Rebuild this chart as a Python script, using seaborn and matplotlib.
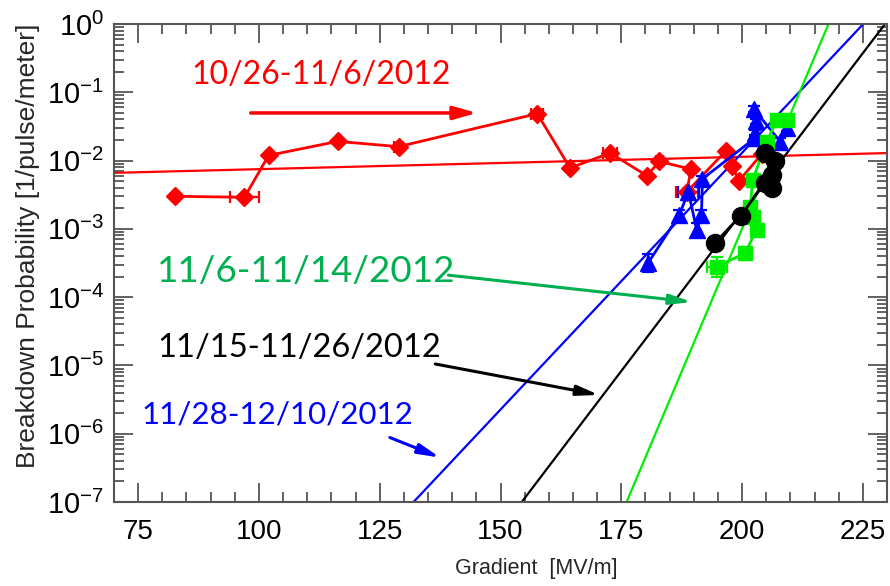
import numpy as np
import pandas as pd
import matplotlib
matplotlib.use("Agg")
import matplotlib.pyplot as plt
import seaborn as sns
from matplotlib.ticker import MultipleLocator, LogLocator, NullFormatter

# ---------------- data ----------------
red_x = [82.6, 97.0, 102.0, 116.3, 128.9, 157.6, 164.4, 172.7, 180.3, 182.9, 189.4, 188.6, 196.7, 197.9, 199.4, 204.1]
red_y = [0.0030, 0.0029, 0.0119, 0.0191, 0.0160, 0.0486, 0.0078, 0.0129, 0.0060, 0.0097, 0.0075, 0.0035, 0.0140, 0.0082, 0.0051, 0.0125]
red_xerr = [0, 3.0, 0, 0, 1.0, 1.2, 0, 1.5, 0, 0.8, 0, 2.2, 0, 0, 0, 0]

blue_x = [180.6, 187.0, 188.9, 190.6, 191.6, 191.8, 202.7, 202.7, 202.9, 202.4, 207.9, 209.3]
blue_y = [0.00032, 0.0016, 0.0035, 0.00097, 0.0016, 0.0054, 0.0214, 0.0253, 0.0375, 0.0569, 0.0190, 0.0300]
blue_yerr_rel = [0.35, 0.2, 0.1, 0.25, 0.2, 0.1, 0.1, 0.1, 0.1, 0.12, 0.12, 0.1]
blue_xerr = [0, 0, 2.2, 0, 0, 0, 0, 0, 0, 0, 0, 0]

green_x = [194.8, 200.6, 203.0, 202.3, 201.7, 202.2, 205.1, 207.2, 209.3]
green_y = [0.00028, 0.00044, 0.00097, 0.0015, 0.0021, 0.0052, 0.0190, 0.0390, 0.0390]
green_yerr_rel = [0.4, 0.25, 0.2, 0.15, 0.15, 0.1, 0.1, 0.08, 0.08]
green_xerr = [2.0, 0, 0, 0, 0, 0, 0, 0, 0]

black_x = [194.4, 199.7, 204.7, 206.1, 206.1, 206.8, 204.7]
black_y = [0.00062, 0.00156, 0.0047, 0.0040, 0.0062, 0.0097, 0.0129]

# exponential fits: log10(P) = a + b * (E - E0)
fit_red = (-2.18, 0.00181, 70.0)
fit_blue = (-7.0, 0.0752, 132.0)
fit_black = (-7.0, 0.0931, 154.4)
fit_green = (-7.0, 0.1675, 176.1)

labels = ["10/26-11/6/2012", "11/6-11/14/2012", "11/15-11/26/2012", "11/28-12/10/2012"]
x_ticks = [75, 100, 125, 150, 175, 200, 225]

# ---------------- style ----------------
sns.set_style("ticks")
plt.rcParams["font.family"] = ["Liberation Sans", "DejaVu Sans"]
plt.rcParams["mathtext.default"] = "regular"

fig = plt.figure(figsize=(8.9, 5.86), dpi=100)
ax = fig.add_axes([114 / 890, 1 - 502 / 586, 773 / 890, 478 / 586])
ax.set_yscale("log")

RED, BLUE, GREEN, BLACK = "#ff0000", "#0000ff", "#00ee00", "#000000"


def fit_line(p, color):
    a, b, e0 = p
    xs = np.array([70.0, 230.0])
    df = pd.DataFrame({"x": xs, "y": 10 ** (a + b * (xs - e0))})
    sns.lineplot(data=df, x="x", y="y", color=color, lw=1.6, ax=ax, legend=False)


def series(x, y, color, marker, ms, xerr=None, yerr_rel=None):
    df = pd.DataFrame({"x": x, "y": y})
    y = np.asarray(y)
    if xerr is not None or yerr_rel is not None:
        ye = None
        if yerr_rel is not None:
            r = np.asarray(yerr_rel)
            ye = [y * r / (1 + r), y * r]
        ax.errorbar(x, y, xerr=xerr, yerr=ye, fmt="none", ecolor=color,
                    elinewidth=1.6, capsize=4, capthick=1.6, zorder=3)
    sns.lineplot(data=df, x="x", y="y", sort=False, estimator=None, color=color,
                 lw=2, marker=marker, markersize=ms, markeredgecolor=color,
                 markeredgewidth=1, ax=ax, legend=False, zorder=4)


fit_line(fit_red, RED)
fit_line(fit_blue, BLUE)
fit_line(fit_green, GREEN)
fit_line(fit_black, BLACK)

series(red_x, red_y, RED, "D", 9.5, xerr=red_xerr)
series(blue_x, blue_y, BLUE, "^", 12, xerr=blue_xerr, yerr_rel=blue_yerr_rel)
series(green_x, green_y, GREEN, "s", 10.5, xerr=green_xerr, yerr_rel=green_yerr_rel)
series(black_x, black_y, BLACK, "o", 13)

ax.xaxis.set_minor_locator(MultipleLocator(5))
ax.set_xticks(x_ticks)
ax.set_yticks([10.0 ** k for k in range(-7, 1)])
ax.yaxis.set_minor_locator(LogLocator(base=10, subs=np.arange(2, 10), numticks=20))
ax.yaxis.set_minor_formatter(NullFormatter())
ax.set_xlim(70, 230)
ax.set_ylim(1e-7, 1)

for s in ax.spines.values():
    s.set_visible(True)
    s.set_color("#555555")
    s.set_linewidth(1.5)
ax.tick_params(which="both", direction="in", top=True, right=True, colors="#555555",
               labelcolor="black", width=1.3)
ax.tick_params(axis="x", which="major", length=14, labelsize=20, pad=12)
ax.tick_params(axis="x", which="minor", length=7)
ax.tick_params(axis="y", which="major", length=14, labelsize=21, pad=7)
ax.tick_params(axis="y", which="minor", length=7)

ax.set_xlabel("Gradient  [MV/m]", fontsize=15.5)
ax.xaxis.set_label_coords((536 - 114) / 773, -0.118)
ax.set_ylabel("Breakdown Probability [1/pulse/meter]", fontsize=19)
ax.yaxis.set_label_coords((40 - 114) / 773, 0.535)
ax.grid(False)

# ---------------- annotations ----------------
tfont = ["Lato", "DejaVu Sans"]
ax.text(112.9, 0.18, labels[0], color=RED, fontsize=23, family=tfont, ha="center", va="center")
ax.annotate("", xy=(145.1, 0.0498), xytext=(98.3, 0.0498),
            arrowprops=dict(arrowstyle="-|>,head_length=1.4,head_width=0.4", color=RED,
                            lw=2.5, shrinkA=0, shrinkB=0))

ax.text(109.8, 2.4e-4, labels[1], color="#00b050", fontsize=26.5, family=tfont, ha="center", va="center")
ax.annotate("", xy=(189.6, 8.5e-5), xytext=(139.2, 2.1e-4),
            arrowprops=dict(arrowstyle="-|>,head_length=1.3,head_width=0.3", color="#00b050",
                            lw=2.2, shrinkA=0, shrinkB=0))

ax.text(108.3, 1.8e-5, labels[2], color=BLACK, fontsize=23.5, family=tfont, ha="center", va="center")
ax.annotate("", xy=(170.4, 3.7e-6), xytext=(136.5, 1.05e-5),
            arrowprops=dict(arrowstyle="-|>,head_length=1.3,head_width=0.3", color=BLACK,
                            lw=2.2, shrinkA=0, shrinkB=0))

ax.text(103.9, 1.9e-6, labels[3], color=BLUE, fontsize=22.5, family=tfont, ha="center", va="center")
ax.annotate("", xy=(137.5, 4.47e-7), xytext=(127.1, 8.8e-7),
            arrowprops=dict(arrowstyle="-|>,head_length=1.3,head_width=0.3", color=BLUE,
                            lw=2.2, shrinkA=0, shrinkB=0))

fig.savefig("out.png", dpi=100)
